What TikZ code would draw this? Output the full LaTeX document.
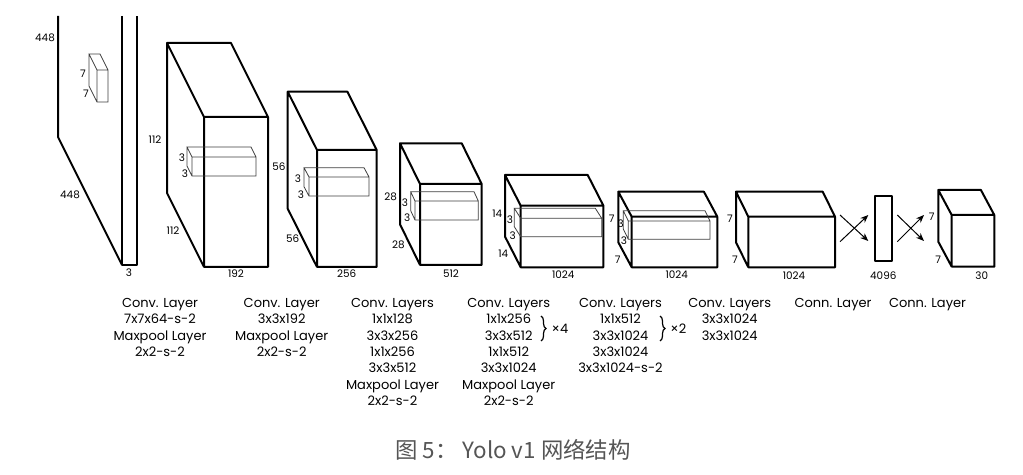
\documentclass[tikz,border=0pt]{standalone}
\usepackage{fontspec}
\setmainfont{Poppins}
\newfontfamily\cjkfont{Noto Sans CJK SC}
\usetikzlibrary{arrows.meta}
\usetikzlibrary{decorations.pathreplacing}
\definecolor{captiongray}{HTML}{555555}

\tikzset{
	boxline/.style={line width=1pt, line join=round},
	kernelline/.style={line width=0.4pt, black!75},
	dimlabel/.style={font=\fontsize{5.2}{6}\selectfont, inner sep=0pt},
	layertext/.style={font=\fontsize{6.5}{8.15}\selectfont, align=center, anchor=north, inner sep=0pt},
	flowarrow/.style={line width=0.5pt, -{Stealth[length=4pt, width=3.2pt]}},
	repbrace/.style={line width=0.6pt, decorate, decoration={brace, amplitude=2.5pt}},
}

% front top-left corner, width, height, depth offset
\newcommand{\layerbox}[7][boxline]{%
	\draw[#1] (#2,#3) rectangle ++(#4,#5)
		(#2,#3) -- ++(-#6,-#7) -- ++(#4,0) -- ++(#6,#7)
		(#2-#6,#3-#7) -- ++(0,#5) -- ++(#6,#7);
}

\begin{document}
\begin{tikzpicture}[x=0.5pt, y=-0.5pt]
	\fill[white] (0,0) rectangle (1023,475);
	\useasboundingbox (0,0) rectangle (1023,475);

	% Input
	\draw[boxline] (122,16) -- (122,265) -- (137,265) -- (137,16);
	\draw[boxline] (58,16) -- (58,137) -- (122,265);
	\layerbox[kernelline]{97}{70}{11}{32}{8}{16}
	\node[dimlabel] at (45,38) {448};
	\node[dimlabel] at (70,195) {448};
	\node[dimlabel] at (129,273) {3};
	\node[dimlabel] at (83,74) {7};
	\node[dimlabel] at (86,94) {7};

	% Boxes
	\layerbox{204}{117}{64}{150}{37}{74}
	\layerbox{317}{150}{59.7}{117}{29.3}{58.3}
	\layerbox{420}{184}{61.7}{81}{20}{40.7}
	\layerbox{520.7}{205.7}{82.7}{61.6}{15.7}{30.7}
	\layerbox{631.7}{216.7}{85.6}{50.6}{13.4}{25}
	\layerbox{748.3}{216.7}{86.7}{50.6}{12.3}{25}
	\layerbox{951.7}{215}{42.6}{51.7}{13.4}{25}
	\draw[boxline] (875.3,196) rectangle (891.7,260.7);

	% Kernels
	\layerbox[kernelline]{192}{157}{64}{19}{5}{10}
	\layerbox[kernelline]{309}{177}{60}{19}{5}{9.3}
	\layerbox[kernelline]{415}{201}{63.3}{19}{4.3}{9.3}
	\layerbox[kernelline]{520.7}{218.3}{81}{18.4}{6.4}{10}
	\layerbox[kernelline]{628.3}{221}{81.7}{18.3}{5}{10.3}

	% Sizes
	\node[dimlabel] at (155,140) {112};
	\node[dimlabel] at (173,231) {112};
	\node[dimlabel] at (236,274) {192};
	\node[dimlabel] at (182,158) {3};
	\node[dimlabel] at (185,174) {3};

	\node[dimlabel] at (279,167) {56};
	\node[dimlabel] at (292.7,239) {56};
	\node[dimlabel] at (346.7,274) {256};
	\node[dimlabel] at (298,179) {3};
	\node[dimlabel] at (301,195) {3};

	\node[dimlabel] at (390.7,196.7) {28};
	\node[dimlabel] at (398.3,245) {28};
	\node[dimlabel] at (451,274) {512};
	\node[dimlabel] at (405,202.7) {3};
	\node[dimlabel] at (407.3,217.3) {3};

	\node[dimlabel] at (497.3,213.3) {14};
	\node[dimlabel] at (503.3,253.3) {14};
	\node[dimlabel] at (563.3,275) {1024};
	\node[dimlabel] at (510,219.3) {3};
	\node[dimlabel] at (512.7,236) {3};

	\node[dimlabel] at (611.7,218.3) {7};
	\node[dimlabel] at (617.7,259.3) {7};
	\node[dimlabel] at (676.7,275) {1024};
	\node[dimlabel] at (620.7,223.3) {3};
	\node[dimlabel] at (624,240.7) {3};

	\node[dimlabel] at (730,218.3) {7};
	\node[dimlabel] at (735,260) {7};
	\node[dimlabel] at (794,275.3) {1024};

	\node[dimlabel] at (883.3,275.3) {4096};

	\node[dimlabel] at (931.7,216.7) {7};
	\node[dimlabel] at (938.3,259.3) {7};
	\node[dimlabel] at (981.7,275.3) {30};

	% Connections
	\coordinate (a1s) at (840,215);
	\coordinate (a1e) at (868.3,241);
	\coordinate (a2s) at (840,241.7);
	\coordinate (a2e) at (868.3,215);
	\coordinate (b1s) at (897.3,215);
	\coordinate (b1e) at (924,241);
	\coordinate (b2s) at (897.3,241.7);
	\coordinate (b2e) at (924,215);
	\draw[flowarrow] (a1s) -- (a1e);
	\draw[flowarrow] (a2s) -- (a2e);
	\draw[flowarrow] (b1s) -- (b1e);
	\draw[flowarrow] (b2s) -- (b2e);

	% Layer texts
	\node[layertext] (conv1) at (160,298) {Conv. Layer\\7x7x64-s-2\\Maxpool Layer\\2x2-s-2};
	\node[layertext] (conv2) at (281.7,298) {Conv. Layer\\3x3x192\\Maxpool Layer\\2x2-s-2};
	\node[layertext] (conv3) at (392.5,298) {Conv. Layers\\1x1x128\\3x3x256\\1x1x256\\3x3x512\\Maxpool Layer\\2x2-s-2};
	\node[layertext] (conv4) at (508.7,298) {Conv. Layers\\1x1x256\\3x3x512\\1x1x512\\3x3x1024\\Maxpool Layer\\2x2-s-2};
	\node[layertext] (conv5) at (620.5,298) {Conv. Layers\\1x1x512\\3x3x1024\\3x3x1024\\3x3x1024-s-2};
	\node[layertext] (conv6) at (729.7,298) {Conv. Layers\\3x3x1024\\3x3x1024};
	\node[layertext] (conn1) at (833,298) {Conn. Layer};
	\node[layertext] (conn2) at (927.5,298) {Conn. Layer};

	\draw[repbrace] (541,316) -- (541,341);
	\node[layertext, anchor=center] (rep4) at (560,329) {×4};
	\draw[repbrace] (660,316) -- (660,341);
	\node[layertext, anchor=center] (rep2) at (678.3,329) {×2};

	% Caption
	\node[font=\cjkfont\fontsize{11.2}{13}\selectfont, text=captiongray] (caption) at (513,450) {图 5： Yolo v1 网络结构};
\end{tikzpicture}
\end{document}
